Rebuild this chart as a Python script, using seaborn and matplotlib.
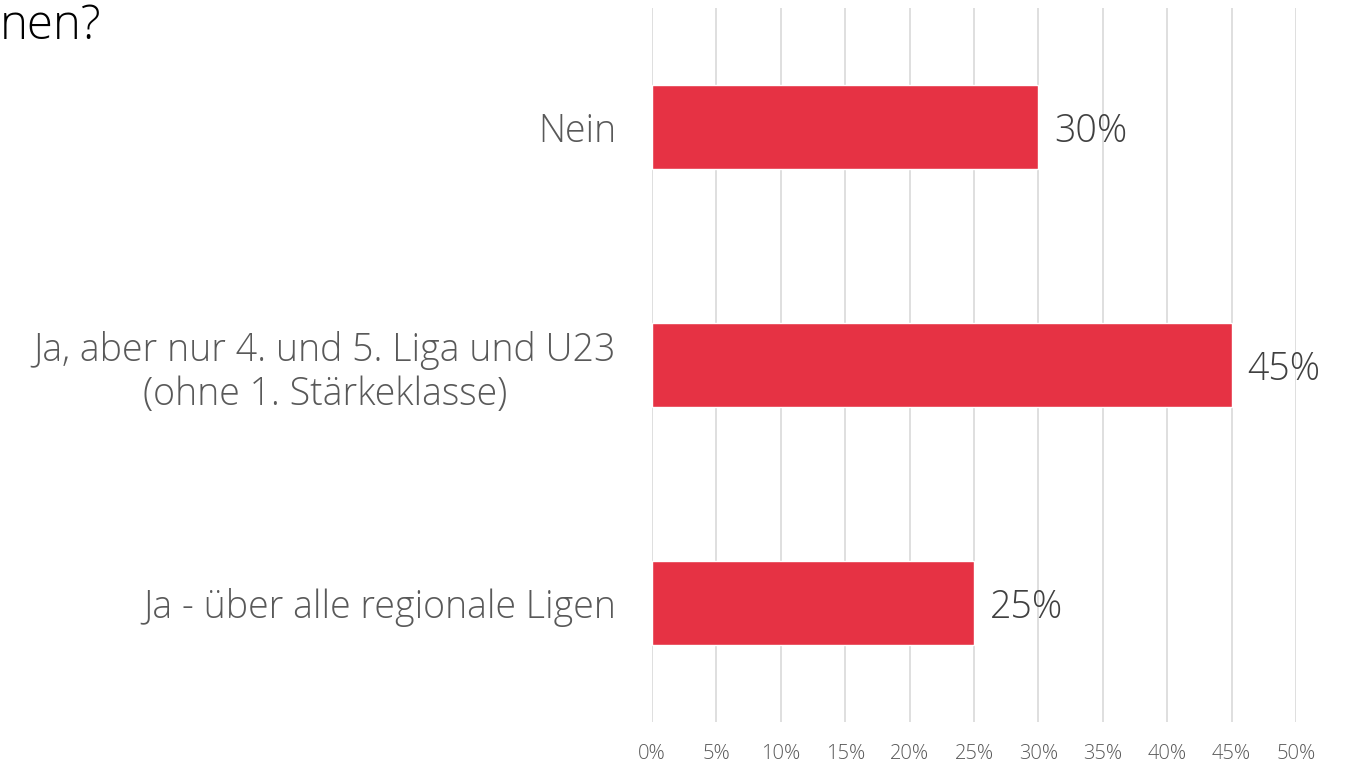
import matplotlib
matplotlib.use("Agg")
import matplotlib.pyplot as plt
import seaborn as sns
import pandas as pd

# Data
categories = ["Nein",
              "Ja, aber nur 4. und 5. Liga und U23\n(ohne 1. Stärkeklasse)",
              "Ja - über alle regionale Ligen"]
values = [30, 45, 25]
x_ticks = [0, 5, 10, 15, 20, 25, 30, 35, 40, 45, 50]
title_fragment = "nen?"

df = pd.DataFrame({"category": categories, "value": values})

sns.set_style("white")
plt.rcParams['font.family'] = ['Open Sans', 'DejaVu Sans']

fig = plt.figure(figsize=(13.48, 7.63), dpi=100)
ax = fig.add_axes([652 / 1348, 1 - 722 / 763, (1296 - 652) / 1348, (722 - 8) / 763])

sns.barplot(data=df, x="value", y="category", order=categories, color="#E63244",
            width=0.353, saturation=1, ax=ax, zorder=3)

ax.set_xlim(0, 50)
ax.set_ylim(2.5, -0.5)
ax.set_xticks(x_ticks)
ax.set_xticklabels([f"{t}%" for t in x_ticks], fontsize=14.5, color="#595959",
                   fontweight="light")
ax.tick_params(axis="x", length=0, pad=16)
ax.tick_params(axis="y", length=0, pad=26)
for lbl in ax.get_yticklabels():
    lbl.set_fontsize(27)
    lbl.set_fontweight("light")
    lbl.set_color("#595959")
    lbl.set_multialignment("center")
    lbl.set_linespacing(1.2)
ax.set_xlabel("")
ax.set_ylabel("")
ax.grid(axis="x", color="#D9D9D9", linewidth=1.2, zorder=0)
for s in ax.spines.values():
    s.set_visible(False)

for i, v in enumerate(values):
    ax.text(v + 1.25, i + 0.02, f"{v}%", va="center", ha="left", fontsize=27,
            fontweight="light", color="#404040")

fig.text(0.0, 0.997, title_fragment, fontsize=34, fontweight="light",
         color="black", ha="left", va="top")

fig.savefig("out.png", dpi=100)
